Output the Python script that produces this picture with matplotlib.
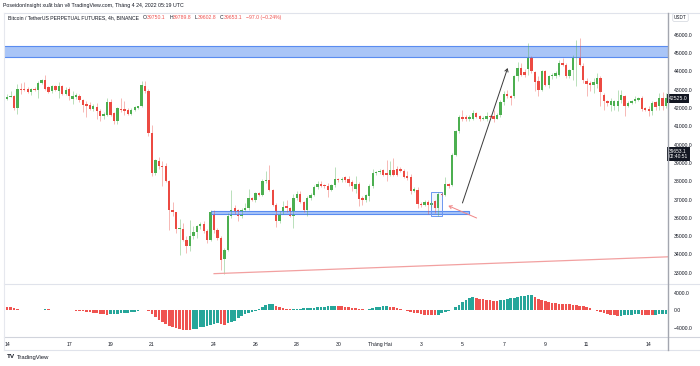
import numpy as np
import matplotlib.pyplot as plt
from matplotlib.patches import Rectangle, FancyArrowPatch
from matplotlib.lines import Line2D
from matplotlib.transforms import blended_transform_factory

plt.rcParams['font.family'] = ['Liberation Sans', 'DejaVu Sans']

# BTCUSDT perp, 4h candles, Jan 13 20:00 -> Feb 14 20:00
opens = [42650, 42500, 42600, 42630, 42000, 43030, 43050, 43030, 42870, 43060,
         42960, 43360, 43500, 43140, 42900, 43180, 42950, 43180, 42780, 43030,
         42500, 42620, 42670, 42450, 42200, 42150, 41960, 42050, 41810, 41540,
         41630, 42300, 41720, 41270, 41960, 41940, 41900, 41680, 41870, 41990,
         42090, 43210, 42900, 40630, 38450, 39100, 38830, 38850, 37990, 36440,
         36300, 35380, 35390, 34800, 34480, 35030, 35200, 35530, 35680, 35260,
         34770, 36270, 35320, 34900, 33750, 34220, 36080, 36560, 36400, 36100,
         36440, 36520, 37080, 36960, 37360, 37250, 37990, 38050, 37500, 36720,
         35810, 36270, 36650, 36550, 36100, 37080, 37300, 36850, 36400, 37080,
         37260, 37680, 37870, 37800, 37720, 37540, 37780, 38120, 38050, 38230,
         38120, 37950, 37600, 37860, 37100, 36980, 37170, 37720, 38450, 38480,
         38600, 38420, 38360, 38630, 38680, 38680, 38540, 38300, 38250, 37450,
         37540, 36770, 36680, 36860, 36680, 36900, 36540, 37320, 37260, 37860,
         37810, 39450, 40720, 41510, 41510, 41400, 41400, 41730, 41550, 41370,
         41400, 41580, 41580, 41400, 41630, 42300, 42780, 42670, 42630, 43720,
         44180, 43950, 44130, 44820, 43940, 43450, 43000, 44000, 43270, 43720,
         43720, 43810, 44450, 44360, 43720, 44050, 44850, 45000, 44270, 43450,
         43360, 43270, 43320, 43640, 42720, 42360, 42180, 42090, 42130, 42450,
         42630, 42130, 42270, 42360, 42450, 42540, 41990, 41940, 41810, 42300,
         42090, 42540, 42090]
highs = [42720, 42740, 42940, 42680, 43320, 43360, 43440, 43150, 43100, 43120,
         43450, 43580, 43800, 43200, 43280, 43250, 43400, 43280, 43150, 43150,
         42900, 42830, 42760, 42500, 42360, 42300, 42220, 42250, 41950, 41800,
         42560, 42500, 41800, 42050, 42540, 42360, 41980, 41980, 42100, 42120,
         43450, 43450, 43050, 41090, 39210, 39300, 39080, 39000, 38080, 36840,
         36300, 35940, 35700, 35000, 35900, 35530, 35620, 35760, 35800, 35390,
         36400, 36400, 35460, 34980, 34350, 36240, 37540, 36700, 36500, 36520,
         36800, 37580, 37150, 37420, 37400, 38100, 38540, 38900, 37560, 36800,
         36350, 36900, 37000, 36600, 37300, 37450, 37450, 36900, 37170, 37350,
         37800, 37990, 37990, 37860, 37900, 37850, 38790, 38200, 38250, 38300,
         38260, 38080, 38260, 37950, 37170, 37300, 37820, 38680, 38580, 38650,
         38680, 39180, 39090, 39270, 38850, 38750, 38680, 38560, 38400, 37700,
         37700, 36850, 36950, 36990, 36900, 37000, 37400, 37400, 38220, 37900,
         39550, 40810, 41590, 41910, 41600, 41640, 41910, 41780, 41640, 41560,
         41770, 41620, 41910, 41730, 42450, 42900, 43000, 42720, 43810, 44490,
         44450, 44100, 45550, 44860, 44020, 43720, 44050, 44090, 43810, 43900,
         44000, 44630, 44730, 44450, 44100, 44910, 45730, 45820, 44450, 43630,
         43450, 43630, 43900, 43720, 42810, 42450, 42540, 42450, 43000, 43000,
         42720, 42360, 42450, 42630, 42600, 42630, 42050, 42090, 42360, 42360,
         42820, 42850, 42820]
lows = [42480, 42420, 42580, 41870, 41690, 42760, 42900, 42800, 42700, 42900,
        42560, 43300, 42980, 42800, 42820, 42900, 42540, 42720, 42700, 42450,
        42230, 42500, 42350, 41800, 41510, 41900, 41820, 41400, 41310, 41400,
        41560, 41540, 41100, 41150, 41800, 41630, 41600, 41620, 41820, 41940,
        42050, 42820, 40450, 38260, 38360, 38650, 37720, 37940, 35350, 36080,
        35170, 33990, 34710, 34100, 34200, 34840, 34900, 35380, 35170, 34620,
        34710, 35170, 34780, 33130, 32950, 34170, 36000, 36200, 35810, 36000,
        36350, 36430, 36900, 36880, 37180, 37180, 37900, 37450, 36650, 35500,
        35720, 36200, 36300, 36050, 35460, 37000, 36800, 36300, 36080, 37000,
        37200, 37600, 37680, 37640, 37150, 37480, 37700, 37950, 37980, 37950,
        37720, 37450, 37350, 36630, 36700, 36850, 36900, 37650, 38320, 38400,
        38300, 37990, 38300, 38300, 38260, 38500, 38170, 38050, 37300, 37400,
        36540, 36600, 36620, 36230, 36600, 36250, 36120, 37200, 37170, 37650,
        37750, 39360, 40630, 41290, 41300, 41290, 41350, 41450, 41290, 41320,
        41290, 41460, 41220, 41370, 41500, 42170, 42540, 42180, 42540, 43450,
        43760, 43700, 43780, 43900, 42900, 42630, 42900, 43180, 43090, 43600,
        43650, 43750, 44270, 43630, 43650, 43540, 43180, 44270, 43360, 42630,
        42900, 42810, 43090, 42090, 41910, 42090, 41810, 41900, 41810, 42270,
        41540, 42050, 42200, 42270, 42400, 41810, 41850, 41540, 41630, 41900,
        41900, 41910, 42000]
closes = [42580, 42620, 42650, 42000, 43030, 42980, 42990, 42870, 43030, 42960,
          43360, 43500, 43030, 42870, 43180, 42960, 43180, 42780, 42960, 42630,
          42650, 42720, 42410, 42180, 42080, 41960, 42100, 41810, 41540, 41690,
          42300, 41630, 41270, 42000, 41880, 41810, 41680, 41900, 42030, 42080,
          43270, 42900, 40630, 38450, 39140, 38830, 38750, 37990, 36440, 36300,
          35390, 35460, 34800, 34480, 35020, 35200, 35530, 35680, 35260, 34770,
          36300, 35320, 34900, 33710, 34220, 36080, 36440, 36350, 36100, 36440,
          36520, 37080, 36960, 37360, 37250, 37990, 38050, 37500, 36720, 35810,
          36270, 36600, 36550, 36100, 37080, 37300, 36850, 36400, 37080, 37260,
          37680, 37870, 37760, 37720, 37540, 37780, 38120, 38050, 38140, 38080,
          37900, 37720, 37860, 37030, 36980, 37260, 37720, 38450, 38480, 38550,
          38360, 38340, 38630, 38340, 38350, 38540, 38230, 38180, 37450, 37600,
          36770, 36680, 36860, 36680, 36800, 36540, 37320, 37250, 37860, 37750,
          39450, 40720, 41510, 41400, 41370, 41510, 41730, 41510, 41370, 41460,
          41580, 41510, 41370, 41640, 42300, 42780, 42670, 42540, 43720, 44180,
          43810, 43820, 44820, 44000, 43400, 42960, 44000, 43270, 43720, 43810,
          43900, 44450, 44360, 43720, 44050, 44820, 45000, 44360, 43540, 43320,
          43270, 43400, 43640, 42850, 42360, 42270, 42360, 42360, 42360, 42720,
          42090, 42270, 42360, 42490, 42540, 41940, 41900, 41810, 42270, 42050,
          42540, 42090, 42525]

# MACD histogram
macd_hist = [900, 850, 700, 500, 300, 150, 60, 80, 110, 140,
             180, 230, 260, 240, 210, 180, 150, 120, 80, 50,
             20, -30, -100, -200, -300, -400, -500, -650, -800, -900,
             -950, -900, -850, -800, -700, -600, -500, -400, -300, -150,
             50, 100, -200, -900, -1500, -2100, -2650, -3200, -3550, -3950,
             -4150, -4400, -4550, -4560, -4570, -4400, -4200, -3900, -3750, -3550,
             -3300, -3100, -2950, -3100, -3300, -3000, -2770, -2540, -1780, -1250,
             -870, -490, -270, -110, 270, 720, 1250, 1480, 1520, 1020,
             720, 490, 270, 250, 300, 360, 420, 490, 570, 640,
             680, 720, 800, 870, 950, 1020, 1080, 1050, 960, 870,
             720, 570, 490, 340, 270, 190, 270, 490, 720, 870,
             950, 980, 870, 720, 490, 270, 40, -110, -270, -490,
             -640, -800, -950, -1020, -1100, -1120, -950, -640, -340, -40,
             200, 700, 1300, 1900, 2500, 2900, 3070, 2920, 2770, 2620,
             2540, 2390, 2300, 2240, 2390, 2540, 2690, 2840, 2990, 3150,
             3300, 3370, 3520, 3550, 3150, 2770, 2540, 2240, 2010, 1780,
             1630, 1550, 1480, 1440, 1400, 1250, 1170, 1100, 1020, 870,
             490, 110, -110, -340, -490, -800, -1000, -1150, -1250, -1200,
             -1100, -1000, -950, -900, -850, -950, -1000, -1050, -1100, -1000,
             -900, -800, -750]

day_labels = ['14', '17', '19', '21', '24', '26', '28', '30', 'Tháng Hai',
              '3', '5', '7', '9', '11', '14']
day_offsets = [0, 3, 5, 7, 10, 12, 14, 16, 18, 20, 22, 24, 26, 28, 31]  # days after Jan 14
price_ticks = list(range(33000, 46001, 1000))
macd_ticks = [4000, 0, -4000]

# drawings (candle index, price)
resistance_zone = (44770, 45400)
support_zone = (60, 134.9, 36210, 36390)
entry_box = (124, 127.2, 36080, 37410)
pink_arrow = [(137.1, 35990), (128.9, 36660)]
grey_arrow = [(133, 36810), (146.1, 44180)]
trend_line = [(61, 32950), (192.6, 33870)]

UP, DOWN = '#4caf50', '#ec4a42'
TEAL, RED = '#26a69a', '#ef5350'
TXT = '#131722'

W, H = 700, 366


def box(x0, y0, x1, y1):
    return [x0 / W, 1 - y1 / H, (x1 - x0) / W, (y1 - y0) / H]


fig = plt.figure(figsize=(7.0, 3.66), dpi=100)
ax = fig.add_axes(box(4, 13, 668, 283))
axm = fig.add_axes(box(4, 284, 668, 335), sharex=ax)

o = np.array(opens, float)
c = np.array(closes, float)
idx = np.arange(len(o))
cols = [UP if cc >= oo else DOWN for oo, cc in zip(o, c)]

# candles
ax.vlines(idx, lows, highs, colors=cols, lw=0.6, alpha=0.45)
body = np.where(np.abs(c - o) < 25, 25, c - o)
ax.bar(idx, body, bottom=o, width=0.68, color=cols, lw=0)

ax.set_xlim((4 - 3.6) / 3.45, (668 - 3.6) / 3.45)
ax.set_ylim(32440, 47185)

# drawings
ax.add_patch(Rectangle((-5, resistance_zone[0]), 220, resistance_zone[1] - resistance_zone[0],
                       fc='#a9c5f7', ec='#5a8cf0', lw=0.8))
x0, x1, p0, p1 = support_zone
ax.add_patch(Rectangle((x0, p0), x1 - x0, p1 - p0, fc='#a9c5f7', ec='#5a8cf0', lw=0.8))
x0, x1, p0, p1 = entry_box
ax.add_patch(Rectangle((x0, p0), x1 - x0, p1 - p0, fc=(0.36, 0.56, 0.94, 0.08), ec='#6b97f0', lw=0.7))
ax.plot([p[0] for p in trend_line], [p[1] for p in trend_line], color='#f2a0a0', lw=0.9)
ax.add_patch(FancyArrowPatch(pink_arrow[0], pink_arrow[1], arrowstyle='->,head_length=2,head_width=1.2',
                             color='#f08585', lw=0.7, shrinkA=0, shrinkB=0))
ax.add_patch(FancyArrowPatch(grey_arrow[0], grey_arrow[1], arrowstyle='->,head_length=2,head_width=1.2',
                             color='#3a3a3a', lw=0.7, shrinkA=0, shrinkB=0))

# price axis
ax.yaxis.tick_right()
ax.set_yticks(price_ticks)
ax.set_yticklabels([f'{v:.1f}' for v in price_ticks])
ax.tick_params(axis='y', length=0, pad=4, labelsize=3.7, labelcolor=TXT)
ax.tick_params(axis='x', bottom=False, labelbottom=False)
for s in ax.spines.values():
    s.set_visible(False)

tr = blended_transform_factory(ax.transAxes, ax.transData)
ax.text(1.001, closes[-1], f'{closes[-1]:.1f}', transform=tr, ha='left', va='center',
        fontsize=3.7, color='white', clip_on=False,
        bbox=dict(fc=TXT, ec='none', boxstyle='square,pad=0.35'))
ax.text(1.001, 39480, '39653.1\n02:40:51', transform=tr, ha='left', va='center',
        fontsize=3.5, color='white', clip_on=False, linespacing=1.2,
        bbox=dict(fc=TXT, ec='none', boxstyle='square,pad=0.35'))

# MACD
h = np.array(macd_hist, float)
hcols = [RED] + [TEAL if h[i] > h[i - 1] else RED for i in range(1, len(h))]
axm.bar(idx, h, width=0.78, color=hcols, lw=0)
axm.set_ylim(-5700, 6160)
axm.yaxis.tick_right()
axm.set_yticks(macd_ticks)
axm.set_yticklabels(['4000.0', '0.0', '\u22124000.0'])
axm.tick_params(axis='y', length=0, pad=4, labelsize=3.7, labelcolor=TXT)
axm.set_xticks([1 + 6 * d for d in day_offsets])
axm.set_xticklabels(day_labels)
axm.tick_params(axis='x', length=0, pad=5, labelsize=3.7, labelcolor=TXT)
for s in axm.spines.values():
    s.set_visible(False)


# pane borders
def hline(y, x0, x1, col, lw=0.8):
    fig.add_artist(Line2D([x0 / W, x1 / W], [1 - y / H, 1 - y / H], color=col, lw=lw))


def vline(x, y0, y1, col, lw=0.8):
    fig.add_artist(Line2D([x / W, x / W], [1 - y0 / H, 1 - y1 / H], color=col, lw=lw))


hline(13, 4, 700, '#e0e3eb')
hline(284, 4, 700, '#e0e3eb')
hline(337, 4, 700, '#d1d4dc')
hline(350, 4, 700, '#e0e3eb')
vline(4, 13, 350, '#e6e8ee')
vline(668, 13, 350, '#a3a6af', 1.0)

# header texts
fig.text(3 / W, 1 - 5.5 / H, 'PoseidonInsight xuất bản về TradingView.com, Tháng 4 24, 2022 05:19 UTC',
         fontsize=3.8, color=TXT, va='center')

parts = [('O', TXT, 3), ('39750.1', RED, 0), ('H', TXT, 2.5), ('39789.8', RED, 0),
         ('L', TXT, 2.5), ('39602.8', RED, 0), ('C', TXT, 2.5), ('39653.1', RED, 0),
         ('\u221297.0 (\u22120.24%)', RED, 2.5)]
last = fig.text(8 / W, 1 - 20 / H, 'Bitcoin / TetherUS PERPETUAL FUTURES, 4h, BINANCE',
                fontsize=3.7, color=TXT, va='bottom')
for s, col, gap in parts:
    last = ax.annotate(s, xy=(1, 0), xycoords=last, xytext=(gap, 0), textcoords='offset points',
                       fontsize=3.7, color=col, va='bottom', annotation_clip=False)

fig.text(680.5 / W, 1 - 17.5 / H, 'USDT', fontsize=3.3, color=TXT, ha='center', va='center',
         bbox=dict(boxstyle='round,pad=0.3', fc='white', ec='#d1d4dc', lw=0.5))

# logo
lg = fig.text(7 / W, 1 - 357 / H, 'TV', fontsize=4.6, weight='bold', color=TXT, va='center')
ax.annotate('TradingView', xy=(1, 0.5), xycoords=lg, xytext=(1.5, 0), textcoords='offset points',
            fontsize=4.2, color=TXT, va='center', annotation_clip=False)

fig.savefig('out.png', dpi=100, facecolor='white')
